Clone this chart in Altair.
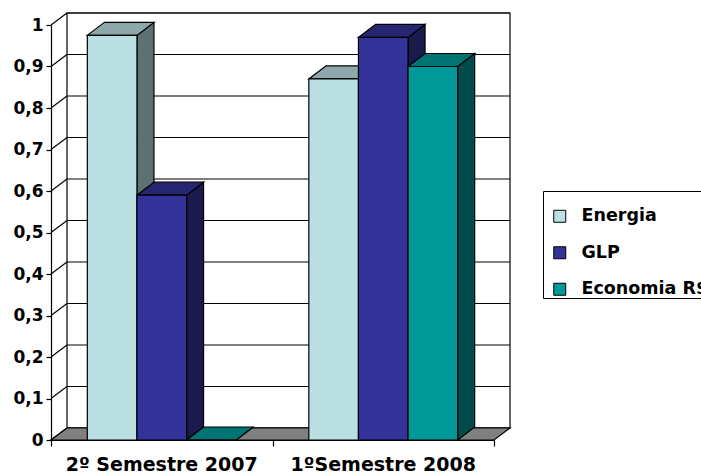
import altair as alt
import pandas as pd

# ---- data -------------------------------------------------------------
categories = ["2º Semestre 2007", "1ºSemestre 2008"]
series = ["Energia", "GLP", "Economia R$"]
energia = [0.975, 0.87]
glp = [0.59, 0.97]
economia = [0.0, 0.90]
y_ticks = [0.0, 0.1, 0.2, 0.3, 0.4, 0.5, 0.6, 0.7, 0.8, 0.9, 1.0]
x_ticks = [0, 1, 2]

# ---- styling ----------------------------------------------------------
front_colors = ["#BBE0E3", "#333399", "#009999"]
FONT = "DejaVu Sans"
LINE = 1.2

def shade(hex_color, k):
    r, g, b = (int(hex_color[i:i + 2], 16) for i in (1, 3, 5))
    return "#%02x%02x%02x" % (round(r * k), round(g * k), round(b * k))

top_colors = [shade(c, 0.75) for c in front_colors]
side_colors = [shade(c, 0.5) for c in front_colors]

# ---- geometry of the pseudo-3D box --------------------------------------
PLOT_W, PLOT_H = 443, 415
N = len(categories)
px_x = PLOT_W / N          # pixels per category band
px_y = PLOT_H / 1.0        # pixels per value unit
wall_dx, wall_dy = 16 / px_x, 12 / px_y
bar_dx, bar_dy = 17 / px_x, 13 / px_y
BAR_W = 0.224
BAR_GAP = (1 - len(series) * BAR_W) / 2

xs = alt.Scale(domain=[0, N], nice=False, zero=False)
ys = alt.Scale(domain=[0, 1], nice=False, zero=False)

# the same axis definitions go on every layer so that they merge cleanly
x_axis = alt.Axis(
    values=x_ticks, title=None, grid=False, labels=False,
    tickSize=6, tickColor="black", tickWidth=LINE,
    domainColor="black", domainWidth=LINE,
)
y_axis = alt.Axis(
    values=y_ticks, title=None, grid=False,
    labelExpr="replace(format(datum.value, '.1~f'), '.', ',')",
    labelFont=FONT, labelFontSize=17, labelFontWeight="bold", labelColor="black",
    labelPadding=3, tickSize=5, tickColor="black", tickWidth=LINE,
    domainColor="black", domainWidth=LINE,
)

def X(field):
    return alt.X(field, scale=xs, axis=x_axis)

def Y(field):
    return alt.Y(field, scale=ys, axis=y_axis)

values = {"Energia": energia, "GLP": glp, "Economia R$": economia}
front_rows, side_rows, top_rows = [], [], []
for gi, cat in enumerate(categories):
    for si, name in enumerate(series):
        v = values[name][gi]
        x0 = gi + BAR_GAP + si * BAR_W
        x1 = x0 + BAR_W
        bid = f"{gi}-{si}"
        front_rows.append(dict(series=name, category=cat, value=v, x0=x0, x1=x1, base=0.0))
        side_rows += [
            dict(bar=bid, x=x1, lo=0.0, hi=v, fill=side_colors[si]),
            dict(bar=bid, x=x1 + bar_dx, lo=bar_dy, hi=v + bar_dy, fill=side_colors[si]),
        ]
        top_rows += [
            dict(bar=bid, y=v, xa=x0, xb=x1, fill=top_colors[si]),
            dict(bar=bid, y=v + bar_dy, xa=x0 + bar_dx, xb=x1 + bar_dx, fill=top_colors[si]),
        ]
fronts = pd.DataFrame(front_rows)
sides = pd.DataFrame(side_rows)
tops = pd.DataFrame(top_rows)

wall = pd.DataFrame([dict(x=wall_dx, x2=N + wall_dx, y=wall_dy, y2=1 + wall_dy)])
grid = pd.DataFrame([dict(x=wall_dx, x2=N + wall_dx, y=v + wall_dy) for v in y_ticks])
side_wall = pd.DataFrame([dict(x=0.0, x2=wall_dx, y=v, y2=v + wall_dy) for v in y_ticks])
floor = pd.DataFrame([
    dict(y=0.0, xa=0.0, xb=float(N)),
    dict(y=wall_dy, xa=wall_dx, xb=N + wall_dx),
])
cat_labels = pd.DataFrame([dict(x=i + 0.5, y=0.0, label=c) for i, c in enumerate(categories)])

# ---- layers -----------------------------------------------------------
back_wall = alt.Chart(wall).mark_rect(fill="white", stroke="black", strokeWidth=LINE).encode(
    x=X("x:Q"), x2="x2:Q", y=Y("y:Q"), y2="y2:Q",
)

grid_lines = alt.Chart(grid).mark_rule(color="black", strokeWidth=LINE).encode(
    x=X("x:Q"), x2="x2:Q", y=Y("y:Q"),
)

wall_lines = alt.Chart(side_wall).mark_rule(color="black", strokeWidth=LINE).encode(
    x=X("x:Q"), x2="x2:Q", y=Y("y:Q"), y2="y2:Q",
)

floor_layer = alt.Chart(floor).mark_area(
    orient="horizontal", fill="#808080", stroke="black", strokeWidth=LINE
).encode(
    y=Y("y:Q"), x=X("xa:Q"), x2="xb:Q",
)

side_faces = alt.Chart(sides).mark_area(
    orient="vertical", stroke="black", strokeWidth=LINE
).encode(
    x=X("x:Q"), y=Y("hi:Q"), y2="lo:Q",
    fill=alt.Fill("fill:N", scale=None),
    detail="bar:N",
)

top_faces = alt.Chart(tops).mark_area(
    orient="horizontal", stroke="black", strokeWidth=LINE
).encode(
    y=Y("y:Q"), x=X("xa:Q"), x2="xb:Q",
    fill=alt.Fill("fill:N", scale=None),
    detail="bar:N",
)

front_faces = alt.Chart(fronts).mark_rect(stroke="black", strokeWidth=LINE).encode(
    x=X("x0:Q"), x2="x1:Q", y=Y("value:Q"), y2="base:Q",
    color=alt.Color("series:N", scale=alt.Scale(domain=series, range=front_colors), legend=alt.Legend(
        orient="none", legendX=492, legendY=166,
        title=" ", titleFontSize=10, titlePadding=6.5,
        padding=0, strokeColor="black", fillColor="white",
        symbolType="square", symbolSize=144, symbolStrokeColor="black", symbolStrokeWidth=1,
        symbolOffset=8, labelOffset=13, rowPadding=17.5, labelLimit=400,
        labelFont=FONT, labelFontSize=17.5, labelFontWeight="bold", labelColor="black",
    )),
)

category_text = alt.Chart(cat_labels).mark_text(
    font=FONT, fontSize=19, fontWeight="bold", color="black", baseline="alphabetic", dy=31
).encode(
    x=X("x:Q"), y=Y("y:Q"), text="label:N",
)

chart = alt.layer(
    back_wall, grid_lines, wall_lines, floor_layer,
    side_faces, top_faces, front_faces, category_text,
).properties(
    width=PLOT_W, height=PLOT_H,
    padding={"left": 51, "top": 25, "right": 207, "bottom": 34},
    autosize=alt.AutoSizeParams(type="none"),
    background="white",
).configure_view(stroke=None)

chart.save("out.html", embed_options={"renderer": "svg", "actions": False})
